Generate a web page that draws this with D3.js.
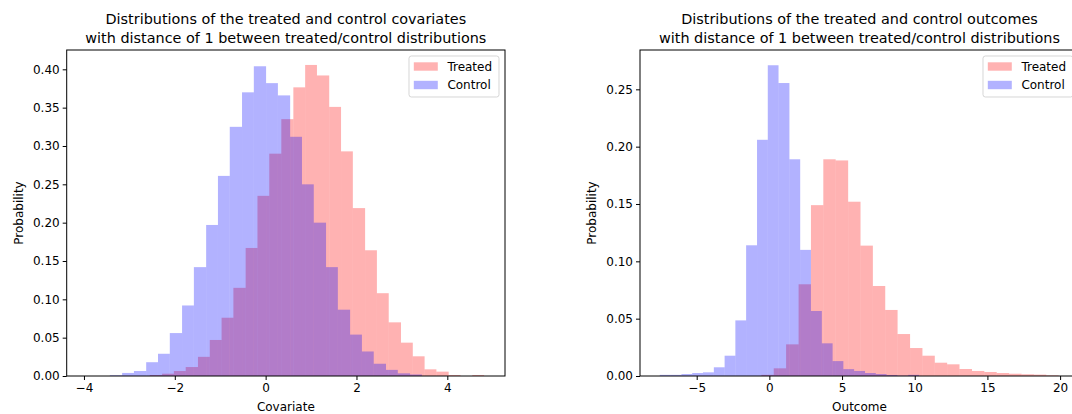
<!DOCTYPE html>
<html>
<head>
<meta charset="utf-8">
<script src="https://d3js.org/d3.v7.min.js"></script>
<style>
  body { margin: 0; background: #fff; }
  text { font-family: "DejaVu Sans", sans-serif; fill: #000; }
</style>
</head>
<body>
<script>
// ---- data ----
// left panel: covariate histograms (bin edges + probability per bin)
var covTreatedEdges = [-2.55, -2.28, -2.02, -1.76, -1.49, -1.23, -0.97, -0.71, -0.44, -0.18, 0.08, 0.345, 0.61, 0.87,
                       1.13, 1.40, 1.66, 1.92, 2.19, 2.45, 2.71, 2.98, 3.24, 3.50, 3.76, 4.03, 4.29, 4.55, 4.81];
var covTreated = [0.0013, 0.003, 0.0065, 0.0117, 0.025, 0.047, 0.076, 0.115, 0.167, 0.235, 0.290, 0.335, 0.3765, 0.4057,
                  0.392, 0.351, 0.293, 0.219, 0.164, 0.108, 0.070, 0.0435, 0.0257, 0.0087, 0.0057, 0.0013, 0, 0.0013];
var covControlEdges = [-3.43, -3.16, -2.90, -2.63, -2.37, -2.11, -1.84, -1.58, -1.31, -1.05, -0.79, -0.52, -0.26, 0.01,
                       0.27, 0.54, 0.80, 1.06, 1.33, 1.59, 1.86, 2.12, 2.38, 2.65, 2.91, 3.18, 3.44];
var covControl = [0.001, 0.004, 0.0065, 0.018, 0.029, 0.056, 0.092, 0.142, 0.197, 0.261, 0.325, 0.370, 0.404, 0.382,
                  0.366, 0.312, 0.250, 0.200, 0.142, 0.0865, 0.054, 0.032, 0.016, 0.008, 0.0035, 0.002];

// right panel: outcome histograms
var outTreatedEdges = [-0.55, 0.30, 1.15, 2.01, 2.86, 3.71, 4.56, 5.42, 6.27, 7.12, 7.97, 8.82, 9.68, 10.53,
                       11.38, 12.23, 13.08, 13.94, 14.79, 15.64, 16.49, 17.35, 18.20, 19.05, 19.90];
var outTreated = [0.001, 0.0067, 0.0276, 0.080, 0.149, 0.189, 0.188, 0.152, 0.1137, 0.0785, 0.0576, 0.0366, 0.0244,
                  0.0177, 0.0116, 0.0102, 0.0061, 0.0044, 0.0035, 0.0026, 0.002, 0.0015, 0.0012, 0.0006];
var outControlEdges = [-7.54, -6.80, -6.05, -5.31, -4.57, -3.82, -3.08, -2.34, -1.60, -0.85, -0.11, 0.63, 1.38,
                       2.12, 2.86, 3.61, 4.35, 5.09, 5.83, 6.58, 7.32, 8.06, 8.81, 9.55, 10.29];
var outControl = [0.001, 0.001, 0.0017, 0.0026, 0.0032, 0.0076, 0.0177, 0.0485, 0.114, 0.206, 0.271, 0.2555, 0.189,
                  0.110, 0.0567, 0.0285, 0.013, 0.006, 0.0044, 0.0026, 0.0017, 0.0009, 0.0003, 0.001];

var covXTicks = [-4, -2, 0, 2, 4];
var covYTicks = [0, 0.05, 0.10, 0.15, 0.20, 0.25, 0.30, 0.35, 0.40];
var outXTicks = [-5, 0, 5, 10, 15, 20];
var outYTicks = [0, 0.05, 0.10, 0.15, 0.20, 0.25];
var seriesNames = ["Treated", "Control"];

var W = 1072, H = 414;
var plotTop = 50, plotBottom = 376;

var svg = d3.select("body").append("svg")
    .attr("width", W)
    .attr("height", H);

function panel(p) {
    var x = d3.scaleLinear().domain(p.xDomain).range([p.left, p.right]);
    var y = d3.scaleLinear().domain([0, p.yMax]).range([plotBottom, plotTop]);
    var g = svg.append("g");

    // bars: treated first, control on top so overlap turns purple
    var series = [
        {edges: p.treatedEdges, vals: p.treated, color: "red"},
        {edges: p.controlEdges, vals: p.control, color: "blue"}
    ];
    series.forEach(function(s) {
        g.append("g").selectAll("rect")
            .data(s.vals)
            .enter().append("rect")
            .attr("x", function(d, i) { return x(s.edges[i]); })
            .attr("width", function(d, i) { return x(s.edges[i + 1]) - x(s.edges[i]); })
            .attr("y", function(d) { return y(d); })
            .attr("height", function(d) { return y(0) - y(d); })
            .attr("fill", s.color)
            .attr("fill-opacity", 0.3);
    });

    // axes
    var xa = g.append("g")
        .attr("transform", "translate(0," + plotBottom + ")")
        .call(d3.axisBottom(x).tickValues(p.xTicks).tickSize(4).tickPadding(3));
    var ya = g.append("g")
        .attr("transform", "translate(" + p.left + ",0)")
        .call(d3.axisLeft(y).tickValues(p.yTicks).tickSize(4).tickPadding(3).tickFormat(d3.format(".2f")));
    [xa, ya].forEach(function(a) {
        a.select(".domain").remove();
        a.selectAll("line").attr("stroke", "#000").attr("stroke-width", 1);
        a.selectAll("text").attr("font-size", 12).attr("font-family", "DejaVu Sans").attr("fill", "#000");
    });

    // spines
    g.append("rect")
        .attr("x", p.left).attr("y", plotTop)
        .attr("width", p.right - p.left).attr("height", plotBottom - plotTop)
        .attr("fill", "none").attr("stroke", "#000").attr("stroke-width", 1);

    // title
    var cx = (p.left + p.right) / 2;
    p.title.forEach(function(t, i) {
        g.append("text")
            .attr("x", cx).attr("y", 24 + i * 19)
            .attr("text-anchor", "middle")
            .attr("font-size", 14.4)
            .text(t);
    });

    g.append("text")
        .attr("x", cx).attr("y", 411)
        .attr("text-anchor", "middle")
        .attr("font-size", 12)
        .text(p.xLabel);

    g.append("text")
        .attr("transform", "translate(" + (p.left - 44) + "," + ((plotTop + plotBottom) / 2) + ") rotate(-90)")
        .attr("text-anchor", "middle")
        .attr("font-size", 12)
        .text("Probability");

    // legend
    var lw = 90, lh = 41;
    var lx = p.right - 6 - lw, ly = plotTop + 6;
    var lg = g.append("g");
    lg.append("rect")
        .attr("x", lx).attr("y", ly).attr("width", lw).attr("height", lh)
        .attr("rx", 2.4)
        .attr("fill", "#fff").attr("fill-opacity", 0.8)
        .attr("stroke", "#ccc").attr("stroke-opacity", 0.8).attr("stroke-width", 1);
    seriesNames.forEach(function(name, i) {
        var cy = ly + 10.5 + i * 18.5;
        lg.append("rect")
            .attr("x", lx + 4.8).attr("y", cy - 4.2)
            .attr("width", 24).attr("height", 8.4)
            .attr("fill", i === 0 ? "red" : "blue")
            .attr("fill-opacity", 0.3);
        lg.append("text")
            .attr("x", lx + 38.4).attr("y", cy + 4.4)
            .attr("font-size", 12)
            .text(name);
    });
}

panel({
    left: 66.7, right: 505, xDomain: [-4.38, 5.27], yMax: 0.4252,
    treatedEdges: covTreatedEdges, treated: covTreated,
    controlEdges: covControlEdges, control: covControl,
    xTicks: covXTicks, yTicks: covYTicks,
    title: ["Distributions of the treated and control covariates",
            "with distance of 1 between treated/control distributions"],
    xLabel: "Covariate"
});

panel({
    left: 640, right: 1079, xDomain: [-8.9, 21.3], yMax: 0.2843,
    treatedEdges: outTreatedEdges, treated: outTreated,
    controlEdges: outControlEdges, control: outControl,
    xTicks: outXTicks, yTicks: outYTicks,
    title: ["Distributions of the treated and control outcomes",
            "with distance of 1 between treated/control distributions"],
    xLabel: "Outcome"
});
</script>
</body>
</html>
